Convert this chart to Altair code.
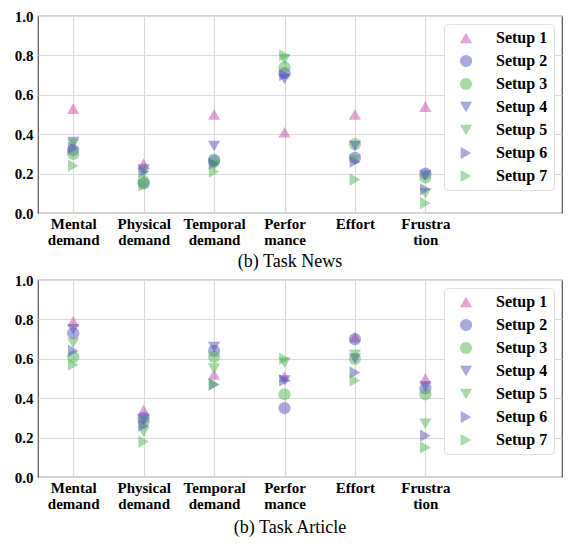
import json
import altair as alt
import pandas as pd

categories = ["Mental|demand", "Physical|demand", "Temporal|demand", "Perfor|mance", "Effort", "Frustra|tion"]
setups = ["Setup 1", "Setup 2", "Setup 3", "Setup 4", "Setup 5", "Setup 6", "Setup 7"]
shapes = ["triangle-up", "circle", "circle", "triangle-down", "triangle-down", "triangle-right", "triangle-right"]
colors = ["#c74ba9", "#5353bb", "#51b551", "#5353bb", "#51b551", "#5353bb", "#51b551"]

# values per setup, one per category (Mental, Physical, Temporal, Performance, Effort, Frustration)
news = {
    "Setup 1": [0.53, 0.25, 0.50, 0.41, 0.50, 0.54],
    "Setup 2": [0.32, 0.15, 0.27, 0.71, 0.28, 0.20],
    "Setup 3": [0.30, 0.16, 0.26, 0.74, 0.35, 0.18],
    "Setup 4": [0.36, 0.22, 0.34, 0.68, 0.34, 0.19],
    "Setup 5": [0.35, 0.20, 0.24, 0.78, 0.27, 0.10],
    "Setup 6": [0.33, 0.21, 0.25, 0.70, 0.26, 0.12],
    "Setup 7": [0.24, 0.14, 0.21, 0.80, 0.17, 0.05],
}
article = {
    "Setup 1": [0.79, 0.34, 0.52, 0.51, 0.71, 0.50],
    "Setup 2": [0.73, 0.30, 0.64, 0.35, 0.70, 0.45],
    "Setup 3": [0.61, 0.28, 0.61, 0.42, 0.60, 0.42],
    "Setup 4": [0.75, 0.29, 0.66, 0.49, 0.60, 0.46],
    "Setup 5": [0.68, 0.23, 0.55, 0.58, 0.62, 0.27],
    "Setup 6": [0.64, 0.26, 0.47, 0.49, 0.53, 0.21],
    "Setup 7": [0.57, 0.18, 0.47, 0.60, 0.49, 0.15],
}

def to_df(d):
    rows = []
    for s in setups:
        for i, v in enumerate(d[s]):
            rows.append({"setup": s, "cat": i, "value": v})
    return pd.DataFrame(rows)

label_expr = "split(" + json.dumps(categories) + "[datum.value], '|')"
SERIF = "Liberation Serif"

def legend():
    return alt.Legend(title=None, orient="top-right", offset=8,
                      labelFont=SERIF, labelFontWeight="bold", labelFontSize=16,
                      labelColor="black", symbolSize=150, symbolOpacity=0.5,
                      symbolStrokeWidth=0, fillColor="white",
                      strokeColor="#dddddd", cornerRadius=4, padding=6,
                      symbolOffset=8, labelOffset=22, rowPadding=7)

def panel(df, caption, cap_offset):
    return alt.Chart(df).mark_point(filled=True, size=150, opacity=0.5).encode(
        x=alt.X("cat:Q", scale=alt.Scale(domain=[-0.5, 6.94], nice=False, zero=False),
                axis=alt.Axis(title=None, values=[0, 1, 2, 3, 4, 5], labelExpr=label_expr,
                              labelFont=SERIF, labelFontWeight="bold", labelFontSize=15,
                              labelColor="black", labelPadding=3, labelLineHeight=16,
                              tickSize=0, domain=False, labelAngle=0)),
        y=alt.Y("value:Q", scale=alt.Scale(domain=[0, 1], nice=False),
                axis=alt.Axis(title=None, values=[0, 0.2, 0.4, 0.6, 0.8, 1.0], format=".1f",
                              labelFont=SERIF, labelFontWeight="bold", labelFontSize=15,
                              labelColor="black", labelPadding=5, tickSize=0, domain=False)),
        color=alt.Color("setup:N", scale=alt.Scale(domain=setups, range=colors), legend=legend()),
        shape=alt.Shape("setup:N", scale=alt.Scale(domain=setups, range=shapes), legend=legend()),
    ).properties(
        width=524, height=197,
        title=alt.TitleParams(caption, orient="bottom", font=SERIF, fontSize=18,
                              fontWeight="normal", color="black", offset=cap_offset, dx=-10),
    )

top = panel(to_df(news), "(b) Task News", 6)
bottom = panel(to_df(article), "(b) Task Article", 8)

chart = alt.vconcat(top, bottom, spacing=0).resolve_legend(
    color="independent", shape="independent"
).properties(
    padding={"left": 5, "top": 0, "right": 0, "bottom": 0}
).configure_view(
    stroke="#555555", strokeWidth=1.2
).configure_axis(
    gridColor="#d9d9d9", gridWidth=1.2
)

chart.save("out.html", embed_options={"renderer": "svg", "actions": False})
